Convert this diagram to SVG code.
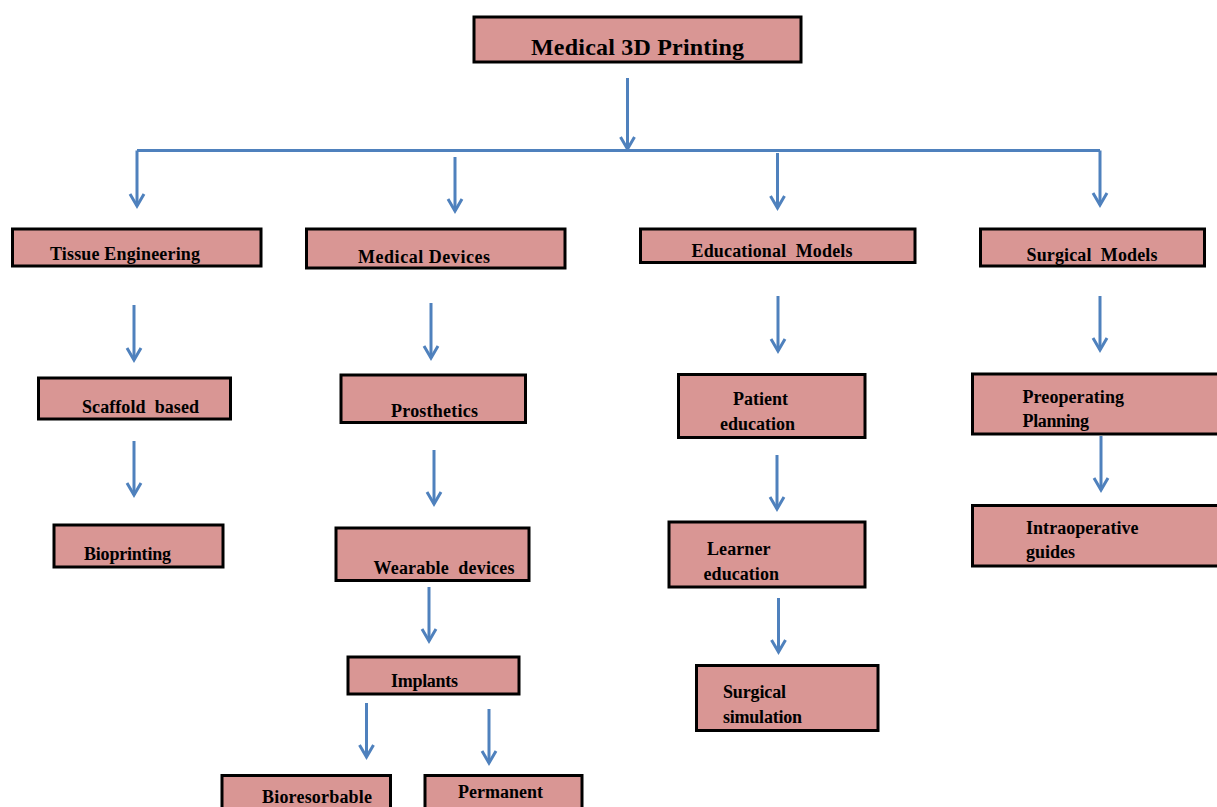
<svg xmlns="http://www.w3.org/2000/svg" width="1217" height="807" viewBox="0 0 1217 807">
<style>
.box{fill:#D99694;stroke:#000;stroke-width:3}
.t{font-family:"Liberation Serif","Times New Roman",serif;font-weight:bold;font-size:18px;fill:#000}
.c{fill:none;stroke:#4F81BD;stroke-width:3;marker-end:url(#ah)}
.l{fill:none;stroke:#4F81BD;stroke-width:3}
</style>
<defs>
<marker id="ah" markerUnits="userSpaceOnUse" markerWidth="24" markerHeight="24" refX="0" refY="0" orient="auto" overflow="visible">
<path d="M-12,-7 L0,0 L-12,7" fill="none" stroke="#4F81BD" stroke-width="3" stroke-linejoin="miter"/>
</marker>
</defs>
<rect width="1217" height="807" fill="#fff"/>
<g id="connectors">
<path class="c" d="M627.5,78 V149"/>
<path class="l" d="M137,150.5 H1100"/>
<path class="c" d="M137,150.5 V206"/>
<path class="c" d="M455,157 V211"/>
<path class="c" d="M777.5,153 V208"/>
<path class="c" d="M1100,150.5 V205"/>
<path class="c" d="M134,305 V360"/>
<path class="c" d="M431,303 V358"/>
<path class="c" d="M778,296 V351"/>
<path class="c" d="M1100,296 V350"/>
<path class="c" d="M134,441 V495"/>
<path class="c" d="M434,450 V504"/>
<path class="c" d="M777,455 V509"/>
<path class="c" d="M1101,436 V490"/>
<path class="c" d="M429,587 V641"/>
<path class="c" d="M778.5,598 V652"/>
<path class="c" d="M366.5,703 V757"/>
<path class="c" d="M489,709 V763"/>
</g>
<g id="root">
<rect class="box" x="474" y="17" width="327" height="45"/>
<text class="t" x="531" y="55" style="font-size:24px" textLength="213">Medical 3D Printing</text>
</g>
<g id="tissue-engineering">
<rect class="box" x="12.5" y="229" width="248.5" height="37"/>
<text class="t" x="50" y="260" textLength="150">Tissue Engineering</text>
</g>
<g id="medical-devices">
<rect class="box" x="306.5" y="229" width="258.5" height="39"/>
<text class="t" x="358" y="263" textLength="132">Medical Devices</text>
</g>
<g id="educational-models">
<rect class="box" x="640.5" y="229" width="274.5" height="33.5"/>
<text class="t" x="691.5" y="257" textLength="161" xml:space="preserve">Educational  Models</text>
</g>
<g id="surgical-models">
<rect class="box" x="980.5" y="229" width="224" height="37"/>
<text class="t" x="1026.5" y="260.5" textLength="131" xml:space="preserve">Surgical  Models</text>
</g>
<g id="scaffold-based">
<rect class="box" x="38.5" y="378" width="192" height="41"/>
<text class="t" x="82" y="413" textLength="117" xml:space="preserve">Scaffold  based</text>
</g>
<g id="prosthetics">
<rect class="box" x="341" y="375" width="184.5" height="47.5"/>
<text class="t" x="391" y="416.5" textLength="87">Prosthetics</text>
</g>
<g id="patient-education">
<rect class="box" x="678.5" y="374.5" width="186.5" height="63"/>
<text class="t" x="733" y="405" textLength="55">Patient</text>
<text class="t" x="720" y="430" textLength="75">education</text>
</g>
<g id="preoperating-planning">
<rect class="box" x="972.5" y="374" width="250" height="60"/>
<text class="t" x="1022.5" y="403" textLength="101.5">Preoperating</text>
<text class="t" x="1022.5" y="427" textLength="66.5">Planning</text>
</g>
<g id="bioprinting">
<rect class="box" x="54" y="525" width="169" height="42"/>
<text class="t" x="84" y="560" textLength="87">Bioprinting</text>
</g>
<g id="wearable-devices">
<rect class="box" x="336" y="528" width="193" height="52.5"/>
<text class="t" x="373.5" y="574" textLength="141" xml:space="preserve">Wearable  devices</text>
</g>
<g id="learner-education">
<rect class="box" x="669" y="522" width="196" height="65"/>
<text class="t" x="707" y="555" textLength="63.5">Learner</text>
<text class="t" x="703.5" y="580" textLength="75.5">education</text>
</g>
<g id="intraoperative-guides">
<rect class="box" x="972.5" y="505.5" width="250" height="60.5"/>
<text class="t" x="1026" y="534" textLength="112.5">Intraoperative</text>
<text class="t" x="1026" y="558" textLength="49">guides</text>
</g>
<g id="implants">
<rect class="box" x="348" y="657" width="171" height="37"/>
<text class="t" x="391" y="687" textLength="67">Implants</text>
</g>
<g id="surgical-simulation">
<rect class="box" x="696.5" y="665.5" width="181.5" height="65"/>
<text class="t" x="723" y="698" textLength="63">Surgical</text>
<text class="t" x="723" y="723" textLength="79">simulation</text>
</g>
<g id="bioresorbable">
<rect class="box" x="222" y="775.5" width="168.5" height="40"/>
<text class="t" x="262" y="803" textLength="110">Bioresorbable</text>
</g>
<g id="permanent">
<rect class="box" x="425" y="775.5" width="157" height="40"/>
<text class="t" x="458" y="798" textLength="85">Permanent</text>
</g>
</svg>
